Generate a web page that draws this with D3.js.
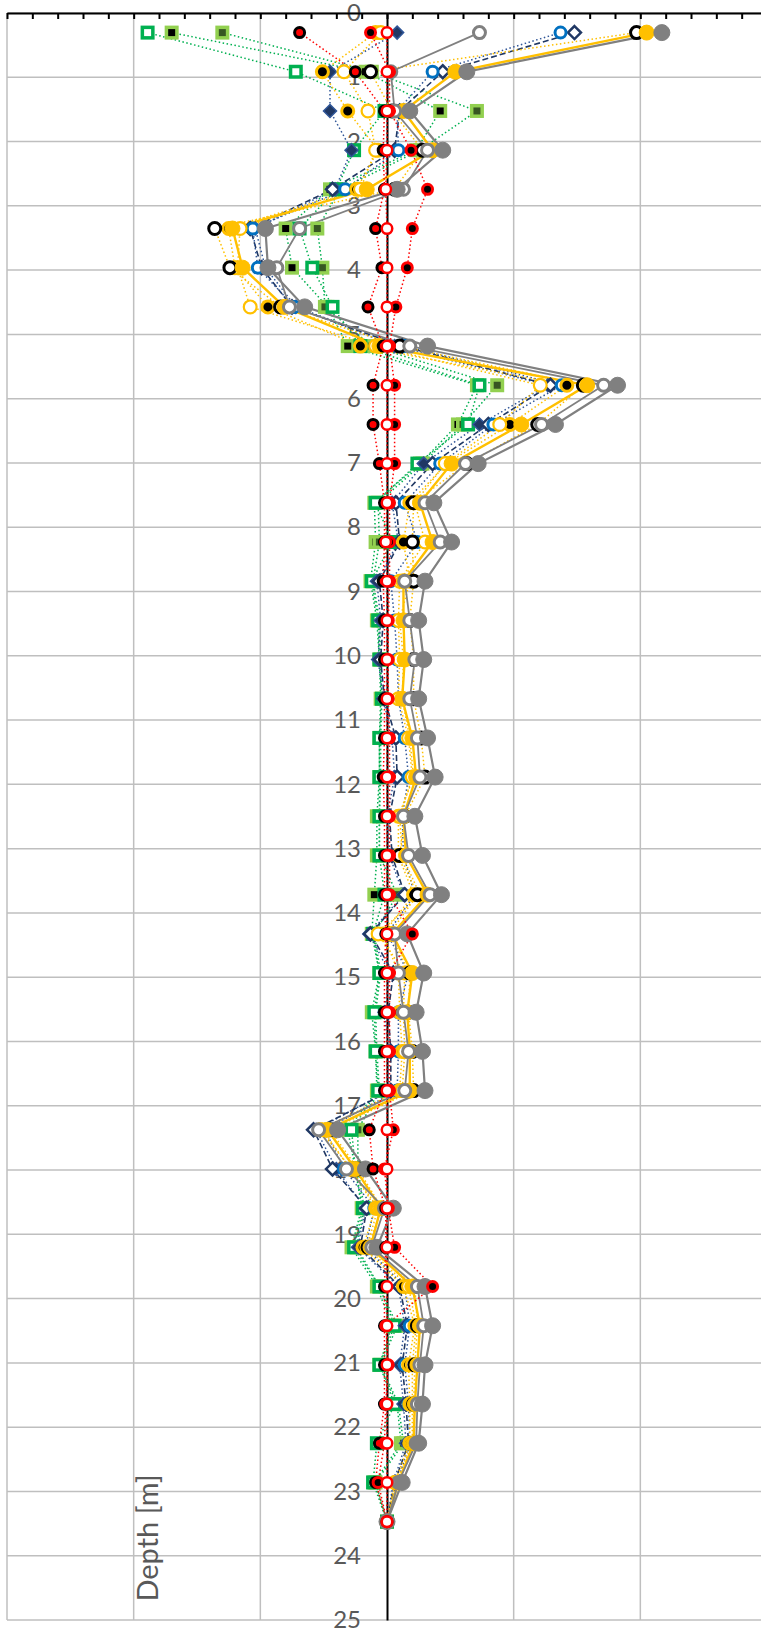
<!DOCTYPE html>
<html>
<head>
<meta charset="utf-8">
<script src="https://cdnjs.cloudflare.com/ajax/libs/d3/7.8.5/d3.min.js"></script>
<style>
    body{margin:0;background:#fff;}
    svg{display:block;}
</style>
</head>
<body>
<script>
//depth of every reading in meters (one reading every 2 ft, first one at 1 ft)
var depths = [0.305, 0.914, 1.524, 2.134, 2.743, 3.353, 3.962, 4.572, 5.182, 5.791,
    6.401, 7.010, 7.620, 8.230, 8.839, 9.449, 10.058, 10.668, 11.278, 11.887,
    12.497, 13.106, 13.716, 14.326, 14.935, 15.545, 16.154, 16.764, 17.374, 17.983,
    18.593, 19.202, 19.812, 20.422, 21.031, 21.641, 22.250, 22.860, 23.470];

//depth axis tick labels
var depthTicks = [0,1,2,3,4,5,6,7,8,9,10,11,12,13,14,15,16,17,18,19,20,21,22,23,24,25];
//value axis major gridlines
var valueGrid = [-3, -2, -1, 1, 2, 3];

//series values, one per depth
var grayFill = [2.17, 0.63, 0.18, 0.44, 0.08, -0.96, -0.94, -0.65, 0.32, 1.82, 1.33, 0.72, 0.37, 0.51, 0.30, 0.25, 0.29, 0.25, 0.32, 0.38,
    0.22, 0.28, 0.43, 0.16, 0.29, 0.23, 0.28, 0.30, -0.39, -0.17, 0.05, -0.08, 0.30, 0.36, 0.30, 0.28, 0.25, 0.12, 0];
var goldFill = [2.05, 0.54, 0.13, 0.36, -0.16, -1.22, -1.14, -0.81, -0.06, 1.58, 1.06, 0.51, 0.26, 0.36, 0.13, 0.13, 0.14, 0.12, 0.20, 0.23,
    0.13, 0.15, 0.32, 0.04, 0.20, 0.16, 0.18, 0.18, -0.47, -0.25, -0.05, -0.13, 0.20, 0.26, 0.24, 0.22, 0.21, 0.09, 0];
var blackRing = [1.97, -0.13, 0.04, 0.28, 0.06, -1.36, -1.24, -0.84, 0.10, 1.55, 1.19, 0.63, 0.21, 0.20, 0.21, 0.18, 0.21, 0.21, 0.27, 0.30,
    0.14, 0.10, 0.24, 0.02, 0.18, 0.17, 0.20, 0.21, -0.45, -0.23, -0.04, -0.15, 0.22, 0.24, 0.22, 0.21, 0.21, 0.09, 0];
var blackGold = [-0.09, -0.51, -0.31, -0.07, -0.24, -1.25, -1.20, -0.94, -0.21, 1.42, 0.97, 0.47, 0.18, 0.13, 0.18, 0.10, 0.13, 0.12, 0.18, 0.21,
    0.09, 0.09, 0.21, -0.03, 0.09, 0.10, 0.12, 0.10, -0.53, -0.28, -0.09, -0.19, 0.13, 0.22, 0.17, 0.18, 0.18, 0.06, 0];
var goldRing = [-0.05, -0.34, -0.15, -0.09, -0.21, -1.16, -1.18, -1.08, -0.09, 1.21, 0.89, 0.46, 0.22, 0.30, 0.10, 0.09, 0.10, 0.09, 0.17, 0.20,
    0.10, 0.12, 0.26, -0.07, 0.14, 0.13, 0.14, 0.12, -0.51, -0.29, -0.07, -0.16, 0.17, 0.23, 0.20, 0.20, 0.20, 0.07, 0];
var grayRing = [0.73, 0.03, 0.06, 0.32, 0.13, -0.69, -0.87, -0.77, 0.18, 1.71, 1.22, 0.62, 0.30, 0.42, 0.14, 0.18, 0.22, 0.18, 0.24, 0.26,
    0.13, 0.17, 0.34, 0.06, 0.09, 0.13, 0.17, 0.14, -0.54, -0.32, -0.02, -0.12, 0.24, 0.29, 0.26, 0.24, 0.23, 0.09, 0];
var blueRing = [1.37, 0.36, 0.08, 0.09, -0.33, -1.06, -1.02, -0.73, 0.14, 1.38, 0.84, 0.42, 0.14, 0.24, 0.03, 0.06, 0.08, 0.09, 0.14, 0.17,
    0.12, 0.13, 0.22, 0.00, 0.17, 0.09, 0.09, 0.08, -0.49, -0.34, -0.10, -0.17, 0.14, 0.18, 0.14, 0.17, 0.18, 0.08, 0];
var navyHollow = [1.48, 0.44, 0.10, 0.06, -0.43, -1.08, -0.99, -0.75, 0.12, 1.29, 0.80, 0.36, 0.07, 0.10, -0.06, -0.03, -0.05, -0.02, 0.07, 0.08,
    0.02, 0.04, 0.14, -0.13, 0.05, 0.01, 0.03, 0.03, -0.58, -0.43, -0.16, -0.21, 0.10, 0.16, 0.12, 0.15, 0.17, 0.06, 0];
var navyFill = [0.08, -0.45, -0.45, -0.28, -0.41, -1.04, -0.96, -0.72, 0.06, 1.27, 0.73, 0.29, 0.04, 0.09, -0.08, -0.05, -0.07, -0.03, 0.04, 0.06,
    0.00, 0.02, 0.13, -0.14, 0.02, -0.02, 0.01, 0.01, -0.56, -0.40, -0.17, -0.23, 0.09, 0.14, 0.10, 0.13, 0.15, 0.05, 0];
var squareBlack = [-1.70, -0.17, 0.42, 0.23, -0.45, -0.80, -0.75, -0.47, -0.31, 0.71, 0.56, 0.26, -0.10, -0.09, -0.13, -0.08, -0.06, -0.05, -0.06, -0.06,
    -0.08, -0.08, -0.10, -0.12, -0.06, -0.12, -0.09, -0.08, -0.31, -0.25, -0.20, -0.28, -0.08, 0.04, -0.06, 0.08, 0.11, -0.10, 0];
var squareDark = [-1.30, -0.12, 0.71, 0.26, -0.37, -0.55, -0.51, -0.49, -0.12, 0.87, 0.60, 0.28, -0.07, -0.06, -0.11, -0.06, -0.05, -0.04, -0.05, -0.05,
    -0.06, -0.06, 0.08, -0.10, -0.05, -0.09, -0.08, -0.06, -0.23, -0.23, -0.18, -0.24, -0.06, 0.08, -0.05, 0.09, 0.13, -0.09, 0];
var squareHollow = [-1.89, -0.72, -0.02, -0.26, -0.40, -0.69, -0.59, -0.43, -0.21, 0.73, 0.64, 0.24, -0.09, 0.04, -0.12, -0.07, -0.06, -0.04, -0.06, -0.06,
    -0.06, -0.06, -0.02, -0.11, -0.06, -0.10, -0.09, -0.07, -0.28, -0.25, -0.19, -0.26, -0.06, 0.06, -0.06, 0.06, -0.08, -0.11, 0];
var redFill = [-0.69, -0.25, -0.02, -0.03, -0.02, -0.09, -0.04, -0.15, -0.03, -0.11, -0.11, -0.06, -0.02, -0.02, -0.03, -0.02, -0.02, -0.02, -0.02, -0.03,
    -0.02, -0.02, -0.02, -0.01, -0.02, -0.02, -0.02, -0.02, -0.14, -0.11, -0.01, -0.01, -0.02, -0.02, -0.02, -0.02, -0.06, -0.09, 0];
var redRing = [0.00, 0.00, 0.00, 0.00, -0.01, 0.00, 0.00, 0.00, 0.00, 0.00, 0.00, 0.00, 0.00, -0.01, 0.00, 0.00, 0.00, 0.00, 0.00, 0.00,
    0.00, 0.00, 0.00, 0.00, 0.00, 0.00, 0.00, 0.00, 0.00, 0.00, 0.00, 0.00, 0.00, 0.00, 0.00, 0.00, 0.00, 0.00, 0];
var redBlack = [-0.13, 0.02, 0.02, 0.19, 0.32, 0.20, 0.16, 0.07, 0.02, 0.06, 0.06, 0.06, 0.02, 0.02, 0.02, 0.01, 0.01, 0.01, 0.02, 0.02,
    0.02, 0.02, 0.02, 0.20, 0.02, 0.02, 0.02, 0.02, 0.05, -0.02, 0.01, 0.06, 0.36, -0.01, 0.01, -0.01, -0.02, -0.07, 0];

(function(){

    //frame dimensions
    var width = 761,
        height = 1629;

    var svg = d3.select("body")
        .append("svg")
        .attr("width", width)
        .attr("height", height);

    //value axis runs beyond the right edge of the picture
    var x = d3.scaleLinear()
        .domain([-3, 3])
        .range([7, 767]);

    var y = d3.scaleLinear()
        .domain([0, 25])
        .range([13, 1620]);

    var dotted = "1.5,2.5";

    //series table: data + drawing style
    var series = [
        {values: squareBlack, line: "#00B050", dash: dotted, lw: 1.5, shape: "square", fill: "#000", stroke: "#92D050", sw: 3.5, size: 14},
        {values: squareDark, line: "#00B050", dash: dotted, lw: 1.5, shape: "square", fill: "#375623", stroke: "#92D050", sw: 3.5, size: 14},
        {values: squareHollow, line: "#00B050", dash: dotted, lw: 1.5, shape: "square", fill: "#fff", stroke: "#00B050", sw: 3.5, size: 14},
        {values: navyFill, line: "#2F5597", dash: dotted, lw: 1.5, shape: "diamond", fill: "#203864", stroke: "#2F5597", sw: 1.5, size: 13},
        {values: navyHollow, line: "#203864", dash: "6,3", lw: 1.6, shape: "diamond", fill: "#fff", stroke: "#203864", sw: 2.5, size: 13},
        {values: blueRing, line: "#2F5597", dash: dotted, lw: 1.5, shape: "circle", fill: "#fff", stroke: "#0070C0", sw: 3, size: 14},
        {values: blackGold, line: "#FFC000", dash: dotted, lw: 1.5, shape: "circle", fill: "#000", stroke: "#FFC000", sw: 3, size: 15},
        {values: goldRing, line: "#FFC000", dash: dotted, lw: 1.5, shape: "circle", fill: "#fff", stroke: "#FFC000", sw: 2.2, size: 15},
        {values: blackRing, line: "#FFC000", dash: dotted, lw: 1.5, shape: "circle", fill: "#fff", stroke: "#000", sw: 3, size: 15},
        {values: goldFill, line: "#FFC000", dash: null, lw: 2.4, shape: "circle", fill: "#FFC000", stroke: "#FFC000", sw: 1, size: 16},
        {values: grayRing, line: "#808080", dash: null, lw: 1.8, shape: "circle", fill: "#fff", stroke: "#808080", sw: 3, size: 15},
        {values: grayFill, line: "#808080", dash: null, lw: 2.2, shape: "circle", fill: "#808080", stroke: "#808080", sw: 1, size: 17},
        {values: redFill, line: "#FF0000", dash: dotted, lw: 1.5, shape: "circle", fill: "#FF0000", stroke: "#000", sw: 3, size: 13},
        {values: redBlack, line: "#FF0000", dash: dotted, lw: 1.5, shape: "circle", fill: "#000", stroke: "#FF0000", sw: 3, size: 13},
        {values: redRing, line: "#FF0000", dash: dotted, lw: 1.5, shape: "circle", fill: "#fff", stroke: "#FF0000", sw: 2.5, size: 13}
    ];

    //horizontal gridlines every meter
    svg.append("g")
        .selectAll("line")
        .data(depthTicks)
        .enter()
        .append("line")
        .attr("x1", x(-3))
        .attr("x2", x(3))
        .attr("y1", function(d){ return y(d); })
        .attr("y2", function(d){ return y(d); })
        .attr("stroke", "#BFBFBF")
        .attr("stroke-width", 1.5);

    //vertical gridlines at major units
    svg.append("g")
        .selectAll("line")
        .data(valueGrid)
        .enter()
        .append("line")
        .attr("x1", function(d){ return x(d); })
        .attr("x2", function(d){ return x(d); })
        .attr("y1", y(0))
        .attr("y2", y(25))
        .attr("stroke", "#BFBFBF")
        .attr("stroke-width", 1.5);

    //depth axis (vertical line at zero with labels)
    var yAxis = d3.axisLeft(y)
        .tickValues(depthTicks)
        .tickSize(0)
        .tickPadding(26);

    var yG = svg.append("g")
        .attr("transform", "translate(" + x(0) + ",0)")
        .call(yAxis);
    yG.select(".domain")
        .attr("stroke", "#000")
        .attr("stroke-width", 2);
    yG.selectAll("text")
        .attr("fill", "#595959")
        .style("font-family", "Lato, 'Open Sans', sans-serif")
        .style("font-size", "24px");

    //value axis across the top, minor ticks pointing down
    var xAxis = d3.axisTop(x)
        .tickValues(d3.range(-15, 16).map(function(i){ return i / 5; }))
        .tickSize(-6)
        .tickSizeOuter(0)
        .tickFormat("");

    var xG = svg.append("g")
        .attr("transform", "translate(0," + y(0) + ")")
        .call(xAxis);
    xG.selectAll("line, path")
        .attr("stroke", "#000")
        .attr("stroke-width", 2);

    //axis title
    svg.append("text")
        .attr("transform", "translate(158,1538) rotate(-90)")
        .attr("text-anchor", "middle")
        .attr("fill", "#595959")
        .style("font-family", "Lato, 'Open Sans', sans-serif")
        .style("font-size", "29px")
        .text("Depth [m]");

    var line = d3.line()
        .x(function(d){ return x(d.v); })
        .y(function(d){ return y(d.d); });

    function points(s){
        return s.values.map(function(v, i){ return {v: v, d: depths[i]}; });
    }

    //draw all connecting lines first
    var lines = svg.append("g");
    series.forEach(function(s){
        lines.append("path")
            .datum(points(s))
            .attr("d", line)
            .attr("fill", "none")
            .attr("stroke", s.line)
            .attr("stroke-width", s.lw)
            .attr("stroke-dasharray", s.dash);
    });

    //then the markers, series by series
    var markers = svg.append("g");
    series.forEach(function(s){
        var g = markers.append("g");
        var pts = points(s);
        if (s.shape == "circle"){
            g.selectAll("circle")
                .data(pts)
                .enter()
                .append("circle")
                .attr("cx", function(d){ return x(d.v); })
                .attr("cy", function(d){ return y(d.d); })
                .attr("r", (s.size - s.sw) / 2)
                .attr("fill", s.fill)
                .attr("stroke", s.stroke)
                .attr("stroke-width", s.sw);
        } else if (s.shape == "square"){
            var h = (s.size - s.sw) / 2;
            g.selectAll("rect")
                .data(pts)
                .enter()
                .append("rect")
                .attr("x", function(d){ return x(d.v) - h; })
                .attr("y", function(d){ return y(d.d) - h; })
                .attr("width", h * 2)
                .attr("height", h * 2)
                .attr("fill", s.fill)
                .attr("stroke", s.stroke)
                .attr("stroke-width", s.sw);
        } else {
            var r = s.size / 2;
            g.selectAll("path")
                .data(pts)
                .enter()
                .append("path")
                .attr("d", function(d){
                    var cx = x(d.v), cy = y(d.d);
                    return "M" + cx + "," + (cy - r) + "L" + (cx + r) + "," + cy +
                        "L" + cx + "," + (cy + r) + "L" + (cx - r) + "," + cy + "Z";
                })
                .attr("fill", s.fill)
                .attr("stroke", s.stroke)
                .attr("stroke-width", s.sw);
        }
    });

})();
</script>
</body>
</html>
